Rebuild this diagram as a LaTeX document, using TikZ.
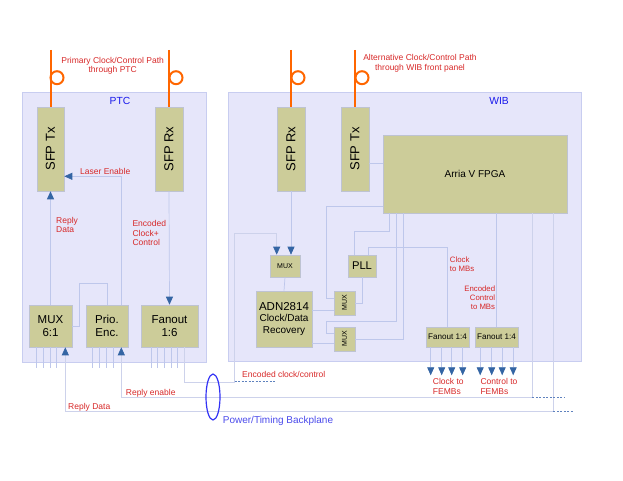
\documentclass[tikz,border=0pt]{standalone}
\usepackage{fontspec}
\setmainfont{Liberation Sans}
\usepackage{graphicx}
\usetikzlibrary{arrows.meta, calc}
\definecolor{panelfill}{RGB}{230,230,250}
\definecolor{paneledge}{RGB}{200,205,240}
\definecolor{blkfill}{RGB}{204,204,153}
\definecolor{blkedge}{RGB}{190,195,210}
\definecolor{lncol}{RGB}{190,199,235}
\definecolor{bpcol}{RGB}{205,210,235}
\definecolor{tipblue}{RGB}{52,101,164}
\definecolor{fibre}{RGB}{255,102,0}
\definecolor{lblred}{RGB}{215,40,40}
\definecolor{ttlblue}{RGB}{25,25,235}
\definecolor{bpblue}{RGB}{75,75,235}
\definecolor{dotcol}{RGB}{95,130,190}
\begin{document}
\begin{tikzpicture}[x=1pt,y=-1pt,>={Triangle[length=8pt,width=7pt,color=tipblue,fill=tipblue]},
panel/.style={draw=paneledge,fill=panelfill,line width=0.6pt,inner sep=0},
blk/.style={draw=blkedge,fill=blkfill,line width=0.6pt,inner sep=0,align=center,font=\fontsize{11.5}{12.7}\selectfont},
sfp/.style={blk,minimum width=28,minimum height=84,font=\fontsize{13}{14}\selectfont},
smux/.style={blk,font=\fontsize{7}{8}\selectfont},
ln/.style={draw=lncol,line width=0.7pt},bpl/.style={draw=bpcol,line width=0.8pt},
fib/.style={draw=fibre,line width=2pt},dots/.style={draw=dotcol,line width=1.2pt,dash pattern=on 2pt off 1.5pt},
lbl/.style={text=lblred,inner sep=0,font=\fontsize{8.5}{9.6}\selectfont},slbl/.style={lbl,font=\fontsize{7.8}{8.7}\selectfont},
ttl/.style={text=ttlblue,inner sep=0,font=\fontsize{10.3}{12}\selectfont}]
\useasboundingbox (0,0) rectangle (623,481);
% PTC and WIB boards
\node[panel,minimum width=184,minimum height=270] (ptc) at (114,227){}; \node[ttl] at (120,101){PTC};
\node[panel,minimum width=353,minimum height=269] (wib) at (404.5,226.5){}; \node[ttl] at (499,101){WIB};
\node[sfp,minimum width=27] (ptctx) at (50.5,149){\rotatebox{90}{SFP Tx}}; \node[sfp] (ptcrx) at (169,149){\rotatebox{90}{SFP Rx}};
\node[sfp] (wibrx) at (291,149){\rotatebox{90}{SFP Rx}}; \node[sfp] (wibtx) at (355,149){\rotatebox{90}{SFP Tx}};
\node[blk,minimum width=184,minimum height=78,font=\fontsize{10}{12}\selectfont] (fpga) at (475,174){Arria V FPGA};
\node[blk,minimum width=43,minimum height=42] (mux61) at (50.5,326){MUX\\6:1}; \node[blk,minimum width=42,minimum height=42] (prio) at (107,326){Prio.\\Enc.};
\node[blk,minimum width=57,minimum height=42] (fan16) at (169.5,326){Fanout\\1:6};
\node[smux,minimum width=30,minimum height=22] (muxin) at (285,266){MUX}; \node[blk,minimum width=28,minimum height=22,font=\fontsize{11.2}{12}\selectfont] (pll) at (362,266){PLL};
\node[blk,minimum width=56,minimum height=56] (adn) at (284,319){ADN2814\\[-1pt]{\fontsize{10}{11}\selectfont Clock/Data}\\[-1pt]{\fontsize{10}{11}\selectfont Recovery}};
\node[smux,minimum width=21,minimum height=24] (muxa) at (344.5,303){\rotatebox{90}{MUX}}; \node[smux,minimum width=21,minimum height=24] (muxb) at (344.5,339){\rotatebox{90}{MUX}};
\node[blk,minimum width=43,minimum height=20,font=\fontsize{8.1}{9}\selectfont] (fana) at (447.5,337){Fanout 1:4}; \node[blk,minimum width=43,minimum height=20,font=\fontsize{8.1}{9}\selectfont] (fanb) at (496.5,337){Fanout 1:4};
% fibres
\draw[fib] (ptctx.north |- 0,50)--(ptctx.north); \draw[fib] ($(ptctx.north)+(6.5,-29)$) circle[radius=6.5pt];
\draw[fib] (ptcrx.north |- 0,50)--(ptcrx.north); \draw[fib] ($(ptcrx.north)+(7,-29)$) circle[radius=6.5pt];
\draw[fib] (wibrx.north |- 0,50)--(wibrx.north); \draw[fib] ($(wibrx.north)+(7,-29)$) circle[radius=6.5pt];
\draw[fib] (wibtx.north |- 0,50)--(wibtx.north); \draw[fib] ($(wibtx.north)+(7,-29)$) circle[radius=6.5pt];
\node[lbl,align=center] at (112.7,65.7){Primary Clock/Control Path\\through PTC}; \node[lbl,align=center] at (420,63.5){Alternative Clock/Control Path\\through WIB front panel};
% PTC links
\draw[ln,->] (mux61.north)--(ptctx.south); \draw[ln,->] (ptcrx.south)--(fan16.north);
\draw[ln,->] ($(prio.north east)+(-7,0)$) |- ($(ptctx.south east)+(0,-15)$); \draw[ln] (mux61.east)-- ++(7,0) |- ($(prio.north)+(0,-21)$)--(prio.north);
\foreach \d in {8,15,21.5,28}{\draw[ln] ($(mux61.south west)+(\d,0)$)-- ++(0,21);}
\foreach \d in {7,14,21,28}{\draw[ln] ($(prio.south west)+(\d,0)$)-- ++(0,21);}
\foreach \d in {11,17,24,31,37}{\draw[ln] ($(fan16.south west)+(\d,0)$)-- ++(0,21);}
\node[lbl,anchor=west] at (80,171.7){Laser Enable}; \node[lbl,anchor=west,align=left] at (56,225){Reply\\Data}; \node[lbl,anchor=west,align=left] at (132.3,233){Encoded\\Clock+\\Control};
% backplane
\draw[bpl,->] ($(fpga.south east)+(-14,0)$) |- ($(mux61.south east)+(-7,64)$)--($(mux61.south east)+(-7,0)$);
\draw[bpl,->] ($(fpga.south east)+(-35,0)$) |- ($(prio.south east)+(-7,50)$)--($(prio.south east)+(-7,0)$);
\draw[bpl,->] ($(fan16.south east)+(-13.5,0)$)-- ++(0,35) -| ($(muxin.north west)+(-35,-21)$)--($(muxin.north west)+(7,-21)$)--($(muxin.north west)+(7,0)$);
\draw[dots] ($(muxin.north west)+(-35,127)$)-- ++(42,0); \draw[dots] ($(fpga.south east)+(-35,184)$)-- ++(33,0); \draw[dots] ($(fpga.south east)+(-14,198)$)-- ++(20,0);
\draw[draw={rgb,255:red,50;green,50;blue,245},line width=1.2pt] (213,397) ellipse[x radius=7pt,y radius=23pt];
\node[lbl,anchor=west] at (125.7,393){Reply enable}; \node[lbl,anchor=west] at (68,407){Reply Data}; \node[lbl,anchor=west] at (242,374.7){Encoded clock/control};
\node[text=bpblue,inner sep=0,anchor=west,font=\fontsize{10}{12}\selectfont] at (222.7,420.7){Power/Timing Backplane};
% WIB links
\draw[ln,->] (wibrx.south)--(wibrx.south |- muxin.north); \draw[ln] (muxin.south)--(adn.north); \draw[ln] ($(wibtx.east)+(0,14)$)-- ++(14,0);
\draw[ln] ($(fpga.south west)+(0,-7)$) -| ($(muxa.west)+(-7,-5)$)--($(muxa.west)+(0,-5)$);
\draw[ln] ($(fpga.south west)+(7,0)$) |- ($(pll.north west)+(7,-23)$)--($(pll.north west)+(7,0)$);
\draw[ln] ($(pll.north west)+(21,0)$) |- ($(fana.north)+(0,-79)$)--(fana.north); \draw[ln] (muxa.east) -| (pll.south);
\draw[ln] ($(muxa.west)+(0,7)$)-- ++(-22,0); \draw[ln] ($(muxb.west)+(0,4)$)-- ++(-22,0);
\draw[ln] ($(fpga.south west)+(14,0)$) |- ($(muxb.west)+(-7,-18)$) |- ($(muxb.west)+(0,-6)$); \draw[ln] (muxb.east) -| ($(fpga.south west)+(21,0)$);
\draw[ln] (fpga.south -| fanb.north)--(fanb.north);
\foreach \d in {5,16,26,37}{\draw[ln,->] ($(fana.south west)+(\d,0)$)-- ++(0,28);}
\foreach \d in {5.5,17,27.5,38.5}{\draw[ln,->] ($(fanb.south west)+(\d,0)$)-- ++(0,28);}
\node[slbl,anchor=west,align=left] at (449.7,264){Clock\\to MBs}; \node[slbl,anchor=east,align=right] at (495.3,297.7){Encoded\\Control\\to MBs};
\node[lbl,anchor=west,align=left] at (432.7,386.5){Clock to\\FEMBs}; \node[lbl,anchor=west,align=left] at (480.3,386.5){Control to\\FEMBs};
\end{tikzpicture}
\end{document}
